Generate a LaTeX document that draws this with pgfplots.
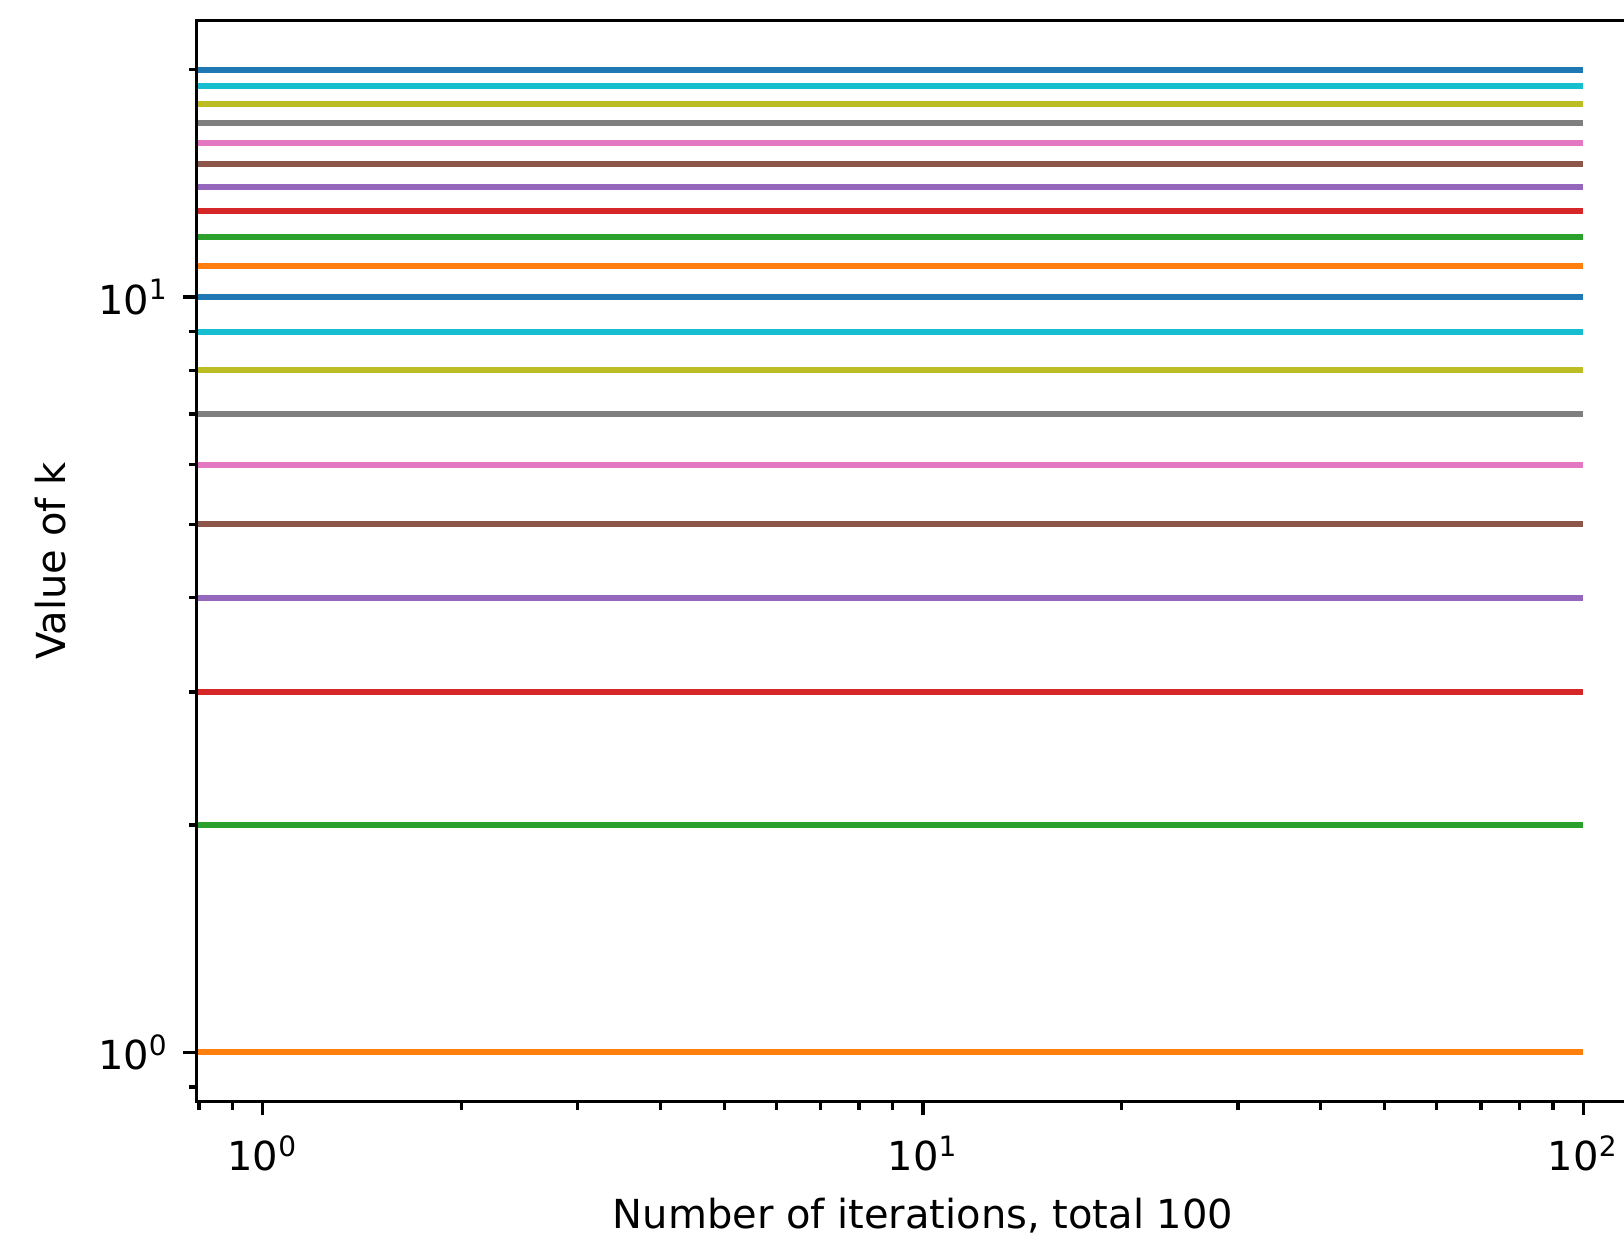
\documentclass[border=0pt]{standalone}
\usepackage{fontspec}
\setmainfont{DejaVu Sans}
\usepackage{pgfplots}
\pgfplotsset{compat=1.18}

% matplotlib tab10 cycle
\definecolor{C0}{HTML}{1F77B4}
\definecolor{C1}{HTML}{FF7F0E}
\definecolor{C2}{HTML}{2CA02C}
\definecolor{C3}{HTML}{D62728}
\definecolor{C4}{HTML}{9467BD}
\definecolor{C5}{HTML}{8C564B}
\definecolor{C6}{HTML}{E377C2}
\definecolor{C7}{HTML}{7F7F7F}
\definecolor{C8}{HTML}{BCBD22}
\definecolor{C9}{HTML}{17BECF}

\begin{document}
\begin{tikzpicture}
\begin{axis}[
    name=ax,
    scale only axis,
    width=363.1pt, height=270.3pt,
    xmode=log, ymode=log,
    xmin=0.7943, xmax=125.89,
    ymin=0.861, ymax=23.23,
    axis on top,
    axis line style={line width=0.8pt},
    every tick/.style={black, line width=0.8pt},
    tick align=outside,
    xtick pos=bottom, ytick pos=left,
    major tick length=3.5pt, minor tick length=2pt,
    xtick={1,10,100},
    xticklabels={10\textsuperscript{0},10\textsuperscript{1},10\textsuperscript{2}},
    ytick={1,10},
    yticklabels={10\textsuperscript{0},10\textsuperscript{1}},
    minor xtick={0.8,0.9,2,3,4,5,6,7,8,9,20,30,40,50,60,70,80,90},
    minor ytick={0.9,2,3,4,5,6,7,8,9,20},
    tick label style={font=\fontsize{10}{12}\selectfont},
    xticklabel style={yshift=-1.5pt},
    label style={font=\fontsize{10}{12}\selectfont},
    xlabel style={yshift=0.2pt},
    ylabel style={yshift=1pt},
    xlabel={Number of iterations, total 100},
    ylabel={Value of k},
    every axis plot/.append style={line width=1.5pt},
]
% each k is constant over the run; the x=0 point lies off the log axis
\addplot[C1] coordinates {(0.5,1) (100,1)};
\addplot[C2] coordinates {(0.5,2) (100,2)};
\addplot[C3] coordinates {(0.5,3) (100,3)};
\addplot[C4] coordinates {(0.5,4) (100,4)};
\addplot[C5] coordinates {(0.5,5) (100,5)};
\addplot[C6] coordinates {(0.5,6) (100,6)};
\addplot[C7] coordinates {(0.5,7) (100,7)};
\addplot[C8] coordinates {(0.5,8) (100,8)};
\addplot[C9] coordinates {(0.5,9) (100,9)};
\addplot[C0] coordinates {(0.5,10) (100,10)};
\addplot[C1] coordinates {(0.5,11) (100,11)};
\addplot[C2] coordinates {(0.5,12) (100,12)};
\addplot[C3] coordinates {(0.5,13) (100,13)};
\addplot[C4] coordinates {(0.5,14) (100,14)};
\addplot[C5] coordinates {(0.5,15) (100,15)};
\addplot[C6] coordinates {(0.5,16) (100,16)};
\addplot[C7] coordinates {(0.5,17) (100,17)};
\addplot[C8] coordinates {(0.5,18) (100,18)};
\addplot[C9] coordinates {(0.5,19) (100,19)};
\addplot[C0] coordinates {(0.5,20) (100,20)};
\end{axis}
\pgfresetboundingbox
\useasboundingbox ([xshift=-49.2pt,yshift=-33.8pt]ax.south west)
    rectangle ([xshift=356.8pt,yshift=5.1pt]ax.north west);
\end{tikzpicture}
\end{document}
